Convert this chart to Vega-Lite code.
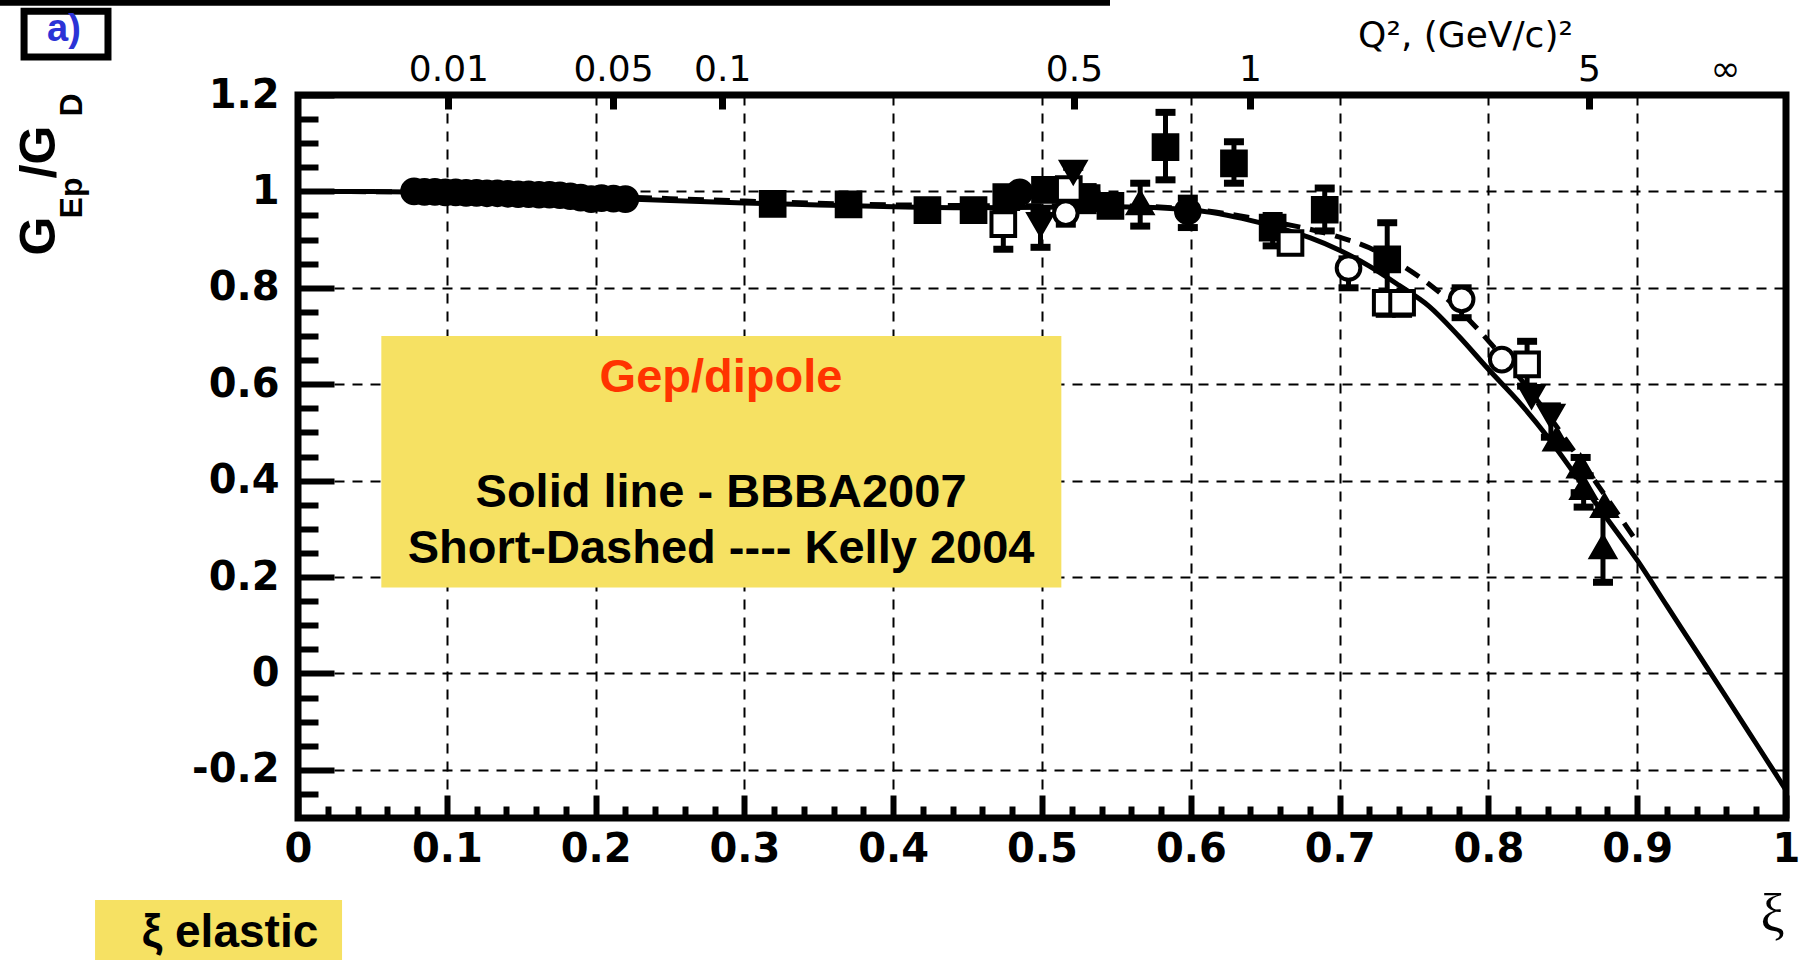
{
  "$schema": "https://vega.github.io/schema/vega-lite/v6.json",
  "width": 1488,
  "height": 723,
  "autosize": "none",
  "padding": {"left": 298, "top": 95, "right": 14, "bottom": 142},
  "background": "white",
  "view": {"stroke": "black", "strokeWidth": 7, "fill": "white"},
  "config": {"text": {"font": "Liberation Sans"}},
  "datasets": {
    "bbba": [
      {"x": 0, "y": 1.0}, {"x": 0.05, "y": 1.0}, {"x": 0.1, "y": 0.997}, {"x": 0.15, "y": 0.993},
      {"x": 0.2, "y": 0.987}, {"x": 0.25, "y": 0.981}, {"x": 0.3, "y": 0.976}, {"x": 0.35, "y": 0.972},
      {"x": 0.4, "y": 0.968}, {"x": 0.45, "y": 0.966}, {"x": 0.5, "y": 0.967}, {"x": 0.55, "y": 0.968},
      {"x": 0.6, "y": 0.962}, {"x": 0.62, "y": 0.953}, {"x": 0.64, "y": 0.94}, {"x": 0.66, "y": 0.924},
      {"x": 0.68, "y": 0.904}, {"x": 0.7, "y": 0.878}, {"x": 0.72, "y": 0.845}, {"x": 0.74, "y": 0.805},
      {"x": 0.76, "y": 0.762}, {"x": 0.78, "y": 0.70}, {"x": 0.8, "y": 0.631}, {"x": 0.82, "y": 0.565},
      {"x": 0.84, "y": 0.49}, {"x": 0.86, "y": 0.405}, {"x": 0.88, "y": 0.32}, {"x": 0.9, "y": 0.235},
      {"x": 0.92, "y": 0.14}, {"x": 0.94, "y": 0.045}, {"x": 0.96, "y": -0.05}, {"x": 0.98, "y": -0.146},
      {"x": 1.0, "y": -0.242}
    ],
    "kelly": [
      {"x": 0, "y": 1.0}, {"x": 0.1, "y": 0.998}, {"x": 0.2, "y": 0.99}, {"x": 0.3, "y": 0.98},
      {"x": 0.4, "y": 0.972}, {"x": 0.5, "y": 0.97}, {"x": 0.55, "y": 0.97}, {"x": 0.6, "y": 0.963},
      {"x": 0.65, "y": 0.94}, {"x": 0.7, "y": 0.905}, {"x": 0.72, "y": 0.883}, {"x": 0.74, "y": 0.85},
      {"x": 0.76, "y": 0.808}, {"x": 0.78, "y": 0.755}, {"x": 0.8, "y": 0.69}, {"x": 0.82, "y": 0.617},
      {"x": 0.84, "y": 0.537}, {"x": 0.86, "y": 0.45}, {"x": 0.88, "y": 0.362}, {"x": 0.9, "y": 0.272}
    ],
    "pts": [
      {"x": 0.078, "y": 1.000, "s": "fc"}, {"x": 0.085, "y": 0.999, "s": "fc"}, {"x": 0.092, "y": 0.999, "s": "fc"},
      {"x": 0.099, "y": 0.998, "s": "fc"}, {"x": 0.106, "y": 0.998, "s": "fc"}, {"x": 0.113, "y": 0.997, "s": "fc"},
      {"x": 0.120, "y": 0.997, "s": "fc"}, {"x": 0.127, "y": 0.996, "s": "fc"}, {"x": 0.134, "y": 0.996, "s": "fc"},
      {"x": 0.141, "y": 0.995, "s": "fc"}, {"x": 0.148, "y": 0.994, "s": "fc"}, {"x": 0.155, "y": 0.994, "s": "fc"},
      {"x": 0.162, "y": 0.993, "s": "fc"}, {"x": 0.169, "y": 0.993, "s": "fc"}, {"x": 0.176, "y": 0.992, "s": "fc"},
      {"x": 0.183, "y": 0.990, "s": "fc"}, {"x": 0.190, "y": 0.987, "s": "fc"}, {"x": 0.197, "y": 0.984, "s": "fc"},
      {"x": 0.204, "y": 0.986, "s": "fc"}, {"x": 0.212, "y": 0.985, "s": "fc"}, {"x": 0.220, "y": 0.984, "s": "fc"},
      {"x": 0.319, "y": 0.974, "s": "fs"}, {"x": 0.370, "y": 0.973, "s": "fs"}, {"x": 0.423, "y": 0.961, "s": "fs"},
      {"x": 0.454, "y": 0.961, "s": "fs"}, {"x": 0.476, "y": 0.988, "lo": 0.97, "hi": 1.005, "s": "fs"},
      {"x": 0.485, "y": 0.998, "s": "fc"}, {"x": 0.502, "y": 1.003, "s": "fs"},
      {"x": 0.530, "y": 0.986, "lo": 0.96, "hi": 1.01, "s": "fs"}, {"x": 0.546, "y": 0.970, "s": "fs"},
      {"x": 0.583, "y": 1.092, "lo": 1.024, "hi": 1.164, "s": "fs"},
      {"x": 0.598, "y": 0.959, "lo": 0.925, "hi": 0.986, "s": "fc"},
      {"x": 0.629, "y": 1.058, "lo": 1.017, "hi": 1.103, "s": "fs"},
      {"x": 0.655, "y": 0.925, "lo": 0.887, "hi": 0.95, "s": "fs"},
      {"x": 0.690, "y": 0.962, "lo": 0.918, "hi": 1.007, "s": "fs"},
      {"x": 0.732, "y": 0.859, "lo": 0.785, "hi": 0.935, "s": "fs"},
      {"x": 0.474, "y": 0.932, "lo": 0.880, "hi": 0.966, "s": "os"},
      {"x": 0.518, "y": 1.005, "s": "os"}, {"x": 0.667, "y": 0.893, "s": "os"},
      {"x": 0.731, "y": 0.769, "lo": 0.745, "hi": 0.79, "s": "os"},
      {"x": 0.742, "y": 0.769, "lo": 0.745, "hi": 0.79, "s": "os"},
      {"x": 0.826, "y": 0.641, "lo": 0.596, "hi": 0.689, "s": "os"},
      {"x": 0.516, "y": 0.955, "lo": 0.932, "hi": 0.975, "s": "oc"},
      {"x": 0.706, "y": 0.841, "lo": 0.800, "hi": 0.86, "s": "oc"},
      {"x": 0.782, "y": 0.776, "lo": 0.738, "hi": 0.80, "s": "oc"},
      {"x": 0.809, "y": 0.651, "s": "oc"},
      {"x": 0.499, "y": 0.932, "lo": 0.884, "hi": 0.959, "s": "td"},
      {"x": 0.521, "y": 1.040, "lo": 1.0, "hi": 1.05, "s": "td"},
      {"x": 0.842, "y": 0.534, "lo": 0.49, "hi": 0.555, "s": "td"},
      {"x": 0.829, "y": 0.575, "s": "td"},
      {"x": 0.566, "y": 0.976, "lo": 0.928, "hi": 1.017, "s": "tu"},
      {"x": 0.846, "y": 0.486, "s": "tu"},
      {"x": 0.862, "y": 0.430, "lo": 0.375, "hi": 0.448, "s": "tu"},
      {"x": 0.864, "y": 0.385, "lo": 0.345, "hi": 0.41, "s": "tu"},
      {"x": 0.877, "y": 0.262, "lo": 0.189, "hi": 0.334, "s": "tu"},
      {"x": 0.878, "y": 0.348, "s": "tu"}
    ]
  },
  "resolve": {"axis": {"x": "independent", "y": "independent"}},
  "layer": [
    {
      "data": {"name": "bbba"},
      "mark": {"type": "line", "stroke": "black", "strokeWidth": 5, "interpolate": "monotone"},
      "encoding": {
        "x": {
          "field": "x", "type": "quantitative",
          "scale": {"domain": [0, 1], "nice": false, "zero": false},
          "axis": {
            "orient": "bottom",
            "values": [0,0.02,0.04,0.06,0.08,0.1,0.12,0.14,0.16,0.18,0.2,0.22,0.24,0.26,0.28,0.3,0.32,0.34,0.36,0.38,0.4,0.42,0.44,0.46,0.48,0.5,0.52,0.54,0.56,0.58,0.6,0.62,0.64,0.66,0.68,0.7,0.72,0.74,0.76,0.78,0.8,0.82,0.84,0.86,0.88,0.9,0.92,0.94,0.96,0.98,1],
            "labelExpr": "abs(datum.value*10-round(datum.value*10))<0.001 ? format(datum.value,'.1~f') : ''",
            "tickSize": {"condition": {"test": "abs(datum.value*10-round(datum.value*10))<0.001", "value": -23}, "value": -12},
            "tickWidth": 6, "tickColor": "black",
            "grid": true, "gridColor": "black", "gridWidth": 2, "gridDash": [10, 8],
            "gridOpacity": {"condition": {"test": "abs(datum.value*10-round(datum.value*10))<0.001", "value": 1}, "value": 0},
            "domain": false,
            "labelFont": "DejaVu Sans", "labelFontWeight": "bold", "labelFontSize": 40, "labelColor": "black",
            "labelPadding": 34, "labelFlush": false, "labelOverlap": false, "labelBound": false,
            "title": "ξ", "titleX": 1474, "titleY": 113, "titleFont": "Liberation Serif", "titleFontSize": 54,
            "titleFontWeight": "normal", "titleAlign": "center", "titleBaseline": "alphabetic", "titleColor": "black", "titleAngle": 0
          }
        },
        "y": {
          "field": "y", "type": "quantitative",
          "scale": {"domain": [-0.3, 1.2], "nice": false, "zero": false},
          "axis": {
            "orient": "left",
            "values": [-0.25,-0.2,-0.15,-0.1,-0.05,0,0.05,0.1,0.15,0.2,0.25,0.3,0.35,0.4,0.45,0.5,0.55,0.6,0.65,0.7,0.75,0.8,0.85,0.9,0.95,1,1.05,1.1,1.15,1.2],
            "labelExpr": "abs(datum.value*5-round(datum.value*5))<0.001 ? (datum.value < -0.001 ? '-' + format(-datum.value,'.1~f') : format(abs(datum.value),'.1~f')) : ''",
            "tickSize": {"condition": {"test": "abs(datum.value*5-round(datum.value*5))<0.001", "value": -36}, "value": -20},
            "tickWidth": 6, "tickColor": "black",
            "grid": true, "gridColor": "black", "gridWidth": 2, "gridDash": [10, 8],
            "gridOpacity": {"condition": {"test": "abs(datum.value*5-round(datum.value*5))<0.001 && datum.value < 1.1", "value": 1}, "value": 0},
            "domain": false,
            "labelFont": "DejaVu Sans", "labelFontWeight": "bold", "labelFontSize": 40, "labelColor": "black",
            "labelPadding": 55, "labelFlush": false, "labelOverlap": false, "labelBound": false,
            "title": null
          }
        }
      }
    },
    {
      "data": {"name": "kelly"},
      "mark": {"type": "line", "stroke": "black", "strokeWidth": 5, "strokeDash": [16, 10], "interpolate": "monotone"},
      "encoding": {
        "x": {
          "field": "x", "type": "quantitative",
          "scale": {"domain": [0, 1], "nice": false, "zero": false},
          "axis": {
            "orient": "top",
            "values": [0.1011, 0.2117, 0.2851, 0.5215, 0.6398, 0.8676, 0.959],
            "labelExpr": "datum.value < 0.15 ? '0.01' : datum.value < 0.25 ? '0.05' : datum.value < 0.4 ? '0.1' : datum.value < 0.6 ? '0.5' : datum.value < 0.7 ? '1' : datum.value < 0.9 ? '5' : '∞'",
            "tickSize": -14, "tickWidth": 7, "tickColor": "black",
            "tickOpacity": {"condition": {"test": "datum.value > 0.9", "value": 0}, "value": 1},
            "grid": false, "domain": false,
            "labelFont": "DejaVu Sans", "labelFontSize": 36, "labelColor": "black",
            "labelPadding": 21, "labelFlush": false, "labelOverlap": false, "labelBound": false,
            "title": "Q², (GeV/c)²", "titleX": 1167, "titleY": -49, "titleFont": "DejaVu Sans", "titleFontSize": 36,
            "titleFontWeight": "normal", "titleAlign": "center", "titleBaseline": "alphabetic", "titleColor": "black"
          }
        },
        "y": {"field": "y", "type": "quantitative", "scale": {"domain": [-0.3, 1.2], "nice": false, "zero": false}, "axis": null}
      }
    },
    {
      "data": {"values": [{"x": 0.056, "x2": 0.513, "y": 0.178, "y2": 0.70}]},
      "mark": {"type": "rect", "fill": "#f6e163"},
      "encoding": {
        "x": {"field": "x", "type": "quantitative", "axis": null},
        "x2": {"field": "x2"},
        "y": {"field": "y", "type": "quantitative", "axis": null},
        "y2": {"field": "y2"}
      }
    },
    {
      "data": {"values": [{"x": 0.2843, "y": 0.584, "t": "Gep/dipole"}]},
      "mark": {"type": "text", "font": "Liberation Sans", "fontWeight": "bold", "fontSize": 47, "fill": "#ff3300", "align": "center", "baseline": "alphabetic"},
      "encoding": {
        "x": {"field": "x", "type": "quantitative", "axis": null},
        "y": {"field": "y", "type": "quantitative", "axis": null},
        "text": {"field": "t"}
      }
    },
    {
      "data": {"values": [{"x": 0.2843, "y": 0.345, "t": "Solid line - BBBA2007"}, {"x": 0.2843, "y": 0.229, "t": "Short-Dashed ---- Kelly 2004"}]},
      "mark": {"type": "text", "font": "Liberation Sans", "fontWeight": "bold", "fontSize": 47, "fill": "black", "align": "center", "baseline": "alphabetic"},
      "encoding": {
        "x": {"field": "x", "type": "quantitative", "axis": null},
        "y": {"field": "y", "type": "quantitative", "axis": null},
        "text": {"field": "t"}
      }
    },
    {
      "data": {"name": "pts"},
      "transform": [{"filter": "isValid(datum.lo)"}],
      "mark": {"type": "rule", "stroke": "black", "strokeWidth": 5},
      "encoding": {
        "x": {"field": "x", "type": "quantitative", "axis": null},
        "y": {"field": "lo", "type": "quantitative", "axis": null},
        "y2": {"field": "hi"}
      }
    },
    {
      "data": {"name": "pts"},
      "transform": [{"filter": "isValid(datum.lo)"}],
      "mark": {"type": "tick", "orient": "horizontal", "color": "black", "size": 20, "thickness": 7, "opacity": 1},
      "encoding": {
        "x": {"field": "x", "type": "quantitative", "axis": null},
        "y": {"field": "lo", "type": "quantitative", "axis": null}
      }
    },
    {
      "data": {"name": "pts"},
      "transform": [{"filter": "isValid(datum.hi)"}],
      "mark": {"type": "tick", "orient": "horizontal", "color": "black", "size": 20, "thickness": 7, "opacity": 1},
      "encoding": {
        "x": {"field": "x", "type": "quantitative", "axis": null},
        "y": {"field": "hi", "type": "quantitative", "axis": null}
      }
    },
    {
      "data": {"name": "pts"},
      "mark": {"type": "point", "stroke": "black", "strokeWidth": 4, "size": 560, "opacity": 1, "fillOpacity": 1},
      "encoding": {
        "x": {"field": "x", "type": "quantitative", "axis": null},
        "y": {"field": "y", "type": "quantitative", "axis": null},
        "shape": {"field": "s", "type": "nominal", "legend": null,
          "scale": {"domain": ["fc", "fs", "os", "oc", "td", "tu"], "range": ["circle", "square", "square", "circle", "triangle-down", "triangle-up"]}},
        "fill": {"field": "s", "type": "nominal", "legend": null,
          "scale": {"domain": ["fc", "fs", "os", "oc", "td", "tu"], "range": ["black", "black", "white", "white", "black", "black"]}}
      }
    },
    {
      "data": {"values": [{"x": -0.2003, "x2": 0.5457, "y": 1.385, "y2": 1.40}]},
      "mark": {"type": "rect", "fill": "black"},
      "encoding": {
        "x": {"field": "x", "type": "quantitative", "axis": null},
        "x2": {"field": "x2"},
        "y": {"field": "y", "type": "quantitative", "axis": null},
        "y2": {"field": "y2"}
      }
    },
    {
      "data": {"values": [{"x": -0.1841, "x2": -0.1277, "y": 1.279, "y2": 1.374}]},
      "mark": {"type": "rect", "fill": "white", "stroke": "black", "strokeWidth": 7},
      "encoding": {
        "x": {"field": "x", "type": "quantitative", "axis": null},
        "x2": {"field": "x2"},
        "y": {"field": "y", "type": "quantitative", "axis": null},
        "y2": {"field": "y2"}
      }
    },
    {
      "data": {"values": [{"x": -0.1573, "y": 1.312, "t": "a)"}]},
      "mark": {"type": "text", "font": "Liberation Sans", "fontWeight": "bold", "fontSize": 38, "fill": "#2b33d6", "align": "center", "baseline": "alphabetic"},
      "encoding": {
        "x": {"field": "x", "type": "quantitative", "axis": null},
        "y": {"field": "y", "type": "quantitative", "axis": null},
        "text": {"field": "t"}
      }
    },
    {
      "data": {"values": [{"x": -0.1364, "x2": 0.0296, "y": -0.470, "y2": -0.60}]},
      "mark": {"type": "rect", "fill": "#f6e163"},
      "encoding": {
        "x": {"field": "x", "type": "quantitative", "axis": null},
        "x2": {"field": "x2"},
        "y": {"field": "y", "type": "quantitative", "axis": null},
        "y2": {"field": "y2"}
      }
    },
    {
      "data": {"values": [{"x": -0.0457, "y": -0.568, "t": "ξ elastic"}]},
      "mark": {"type": "text", "font": "Liberation Sans", "fontWeight": "bold", "fontSize": 46, "fill": "black", "align": "center", "baseline": "alphabetic"},
      "encoding": {
        "x": {"field": "x", "type": "quantitative", "axis": null},
        "y": {"field": "y", "type": "quantitative", "axis": null},
        "text": {"field": "t"}
      }
    },
    {
      "data": {"values": [{"x": -0.1633, "y": 0.9075, "t": "G"}, {"x": -0.1633, "y": 1.0817, "t": "/G"}]},
      "mark": {"type": "text", "font": "Liberation Sans", "fontWeight": "bold", "fontSize": 50, "fill": "black", "align": "center", "baseline": "alphabetic", "angle": 270},
      "encoding": {
        "x": {"field": "x", "type": "quantitative", "axis": null},
        "y": {"field": "y", "type": "quantitative", "axis": null},
        "text": {"field": "t"}
      }
    },
    {
      "data": {"values": [{"x": -0.1452, "y": 0.9863, "t": "Ep"}, {"x": -0.1452, "y": 1.1792, "t": "D"}]},
      "mark": {"type": "text", "font": "Liberation Sans", "fontWeight": "bold", "fontSize": 32, "fill": "black", "align": "center", "baseline": "alphabetic", "angle": 270},
      "encoding": {
        "x": {"field": "x", "type": "quantitative", "axis": null},
        "y": {"field": "y", "type": "quantitative", "axis": null},
        "text": {"field": "t"}
      }
    }
  ]
}
